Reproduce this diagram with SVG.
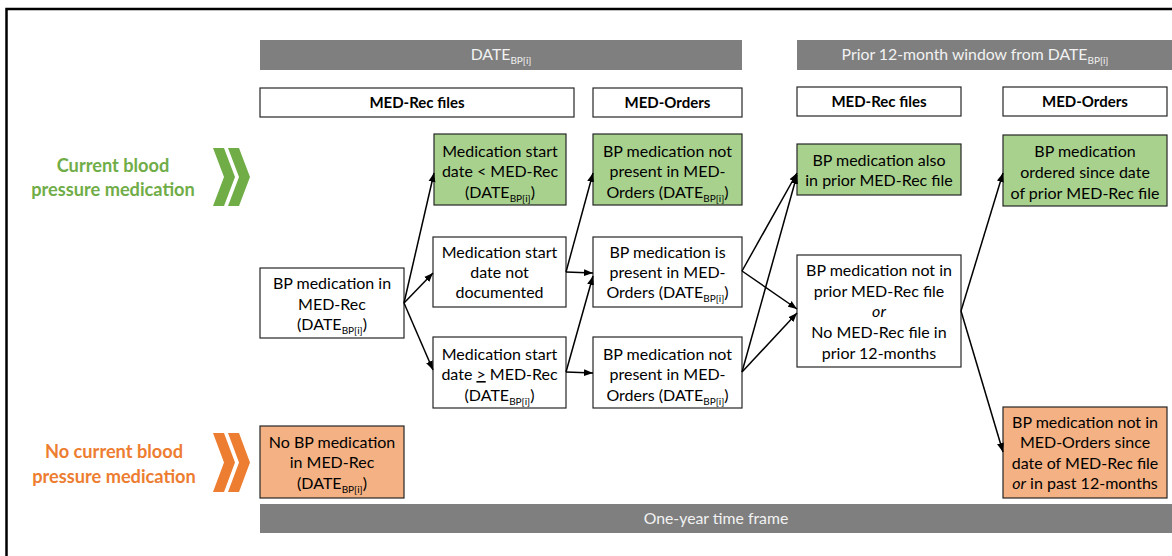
<svg xmlns="http://www.w3.org/2000/svg" width="1172" height="556" viewBox="0 0 1172 556">
<style>
text{font-family:Lato,"Open Sans","Liberation Sans",sans-serif;font-size:16px;fill:#000;text-anchor:middle}
.box{fill:#fff;stroke:#262626;stroke-width:1.2}
.g{fill:#A9D18E}
.o{fill:#F4B183}
.bar{fill:#7F7F7F}
.bt{fill:#F2F2F2;font-size:15.8px}
.hd{font-weight:bold;font-size:15px}
.lg{font-weight:bold;font-size:18.2px;fill:#70AD47}
.lo{font-weight:bold;font-size:18.2px;fill:#ED7D31}
.s{font-size:10px}
.c line{stroke:#000;stroke-width:1.5;marker-end:url(#ah)}
</style>
<defs>
<marker id="ah" markerUnits="userSpaceOnUse" markerWidth="10" markerHeight="8" refX="9" refY="4" orient="auto">
<path d="M0,0.5 L9,4 L0,7.5 z" fill="#000"/>
</marker>
</defs>
<rect x="0" y="0" width="1172" height="556" fill="#fff"/>
<rect x="6.5" y="9" width="1300" height="700" fill="none" stroke="#000" stroke-width="2.5"/>

<g id="bar-date">
<rect class="bar" x="260" y="40" width="482" height="30"/>
<text class="bt" x="501" y="60">DATE<tspan class="s" dy="3.5">BP[i]</tspan></text>
</g>
<g id="bar-prior">
<rect class="bar" x="797" y="40" width="375" height="30"/>
<text class="bt" x="975" y="60">Prior 12-month window from DATE<tspan class="s" dy="3.5">BP[i]</tspan></text>
</g>
<g id="bar-year">
<rect class="bar" x="260" y="504" width="912" height="29"/>
<text class="bt" x="716" y="524">One-year time frame</text>
</g>

<g id="hdr-medrec1"><rect class="box" x="260" y="88" width="314" height="29"/><text class="hd" x="417" y="108">MED-Rec files</text></g>
<g id="hdr-medord1"><rect class="box" x="593" y="88" width="149" height="29"/><text class="hd" x="667.5" y="108">MED-Orders</text></g>
<g id="hdr-medrec2"><rect class="box" x="797" y="87" width="164" height="29"/><text class="hd" x="879" y="107">MED-Rec files</text></g>
<g id="hdr-medord2"><rect class="box" x="1003" y="87" width="164" height="29"/><text class="hd" x="1085" y="107">MED-Orders</text></g>

<g id="label-current">
<text class="lg" x="113" y="172">Current blood</text>
<text class="lg" x="113" y="196">pressure medication</text>
<path fill="#70AD47" d="M213,148 L224,148 L235,177 L224,206 L213,206 L224,177 z M228,148 L239,148 L250,177 L239,206 L228,206 L239,177 z"/>
</g>
<g id="label-nocurrent">
<text class="lo" x="114" y="458">No current blood</text>
<text class="lo" x="114" y="483">pressure medication</text>
<path fill="#ED7D31" d="M213,433 L224,433 L235,462.5 L224,492 L213,492 L224,462.5 z M228,433 L239,433 L250,462.5 L239,492 L228,492 L239,462.5 z"/>
</g>

<g id="n-bpmed">
<rect class="box" x="260" y="268" width="144" height="70"/>
<text x="332" y="289">BP medication in</text>
<text x="332" y="310">MED-Rec</text>
<text x="332" y="330">(DATE<tspan class="s" dy="3.5">BP[i]</tspan><tspan dy="-3.5">)</tspan></text>
</g>
<g id="n-nobpmed">
<rect class="box o" x="260" y="426" width="144" height="72"/>
<text x="332" y="448">No BP medication</text>
<text x="332" y="468">in MED-Rec</text>
<text x="332" y="489">(DATE<tspan class="s" dy="3.5">BP[i]</tspan><tspan dy="-3.5">)</tspan></text>
</g>
<g id="n-startless">
<rect class="box g" x="434" y="134" width="132" height="71"/>
<text x="500" y="157">Medication start</text>
<text x="500" y="177">date &lt; MED-Rec</text>
<text x="500" y="198">(DATE<tspan class="s" dy="3.5">BP[i]</tspan><tspan dy="-3.5">)</tspan></text>
</g>
<g id="n-startnotdoc">
<rect class="box" x="433" y="237" width="133" height="70"/>
<text x="499.5" y="258">Medication start</text>
<text x="499.5" y="278">date not</text>
<text x="499.5" y="298">documented</text>
</g>
<g id="n-startge">
<rect class="box" x="433" y="337" width="133" height="71"/>
<text x="499.5" y="360">Medication start</text>
<text x="499.5" y="380">date <tspan style="text-decoration:underline">&gt;</tspan> MED-Rec</text>
<text x="499.5" y="401">(DATE<tspan class="s" dy="3.5">BP[i]</tspan><tspan dy="-3.5">)</tspan></text>
</g>
<g id="n-notpresent1">
<rect class="box g" x="593" y="134" width="149" height="71"/>
<text x="667.5" y="157">BP medication not</text>
<text x="667.5" y="177">present in MED-</text>
<text x="667.5" y="198">Orders (DATE<tspan class="s" dy="3.5">BP[i]</tspan><tspan dy="-3.5">)</tspan></text>
</g>
<g id="n-present">
<rect class="box" x="593" y="237" width="149" height="70"/>
<text x="667.5" y="258">BP medication is</text>
<text x="667.5" y="278">present in MED-</text>
<text x="667.5" y="298">Orders (DATE<tspan class="s" dy="3.5">BP[i]</tspan><tspan dy="-3.5">)</tspan></text>
</g>
<g id="n-notpresent2">
<rect class="box" x="593" y="337" width="149" height="71"/>
<text x="667.5" y="360">BP medication not</text>
<text x="667.5" y="380">present in MED-</text>
<text x="667.5" y="401">Orders (DATE<tspan class="s" dy="3.5">BP[i]</tspan><tspan dy="-3.5">)</tspan></text>
</g>
<g id="n-alsoprior">
<rect class="box g" x="797" y="144" width="164" height="51"/>
<text x="879" y="166">BP medication also</text>
<text x="879" y="186">in prior MED-Rec file</text>
</g>
<g id="n-notprior">
<rect class="box" x="797" y="255" width="164" height="112"/>
<text x="879" y="276">BP medication not in</text>
<text x="879" y="296.5">prior MED-Rec file</text>
<text x="879" y="317" font-style="italic">or</text>
<text x="879" y="337.5">No MED-Rec file in</text>
<text x="879" y="358.5">prior 12-months</text>
</g>
<g id="n-ordered">
<rect class="box g" x="1003" y="135" width="164" height="71"/>
<text x="1085" y="157">BP medication</text>
<text x="1085" y="178">ordered since date</text>
<text x="1085" y="199">of prior MED-Rec file</text>
</g>
<g id="n-notordered">
<rect class="box o" x="1003" y="407" width="164" height="91"/>
<text x="1085" y="428">BP medication not in</text>
<text x="1085" y="448">MED-Orders since</text>
<text x="1085" y="468.5">date of MED-Rec file</text>
<text x="1085" y="489"><tspan font-style="italic">or</tspan> in past 12-months</text>
</g>

<g id="connectors" class="c">
<line x1="404" y1="303" x2="434" y2="173"/>
<line x1="404" y1="303" x2="433" y2="273"/>
<line x1="404" y1="303" x2="433" y2="370"/>
<line x1="566" y1="272" x2="593" y2="173"/>
<line x1="566" y1="272" x2="593" y2="273"/>
<line x1="566" y1="372" x2="593" y2="276"/>
<line x1="566" y1="372" x2="593" y2="373"/>
<line x1="742" y1="271" x2="797" y2="173"/>
<line x1="742" y1="271" x2="797" y2="309"/>
<line x1="742" y1="372" x2="797" y2="175"/>
<line x1="742" y1="372" x2="797" y2="313"/>
<line x1="961" y1="311" x2="1003" y2="173"/>
<line x1="961" y1="311" x2="1003" y2="452"/>
</g>
</svg>
